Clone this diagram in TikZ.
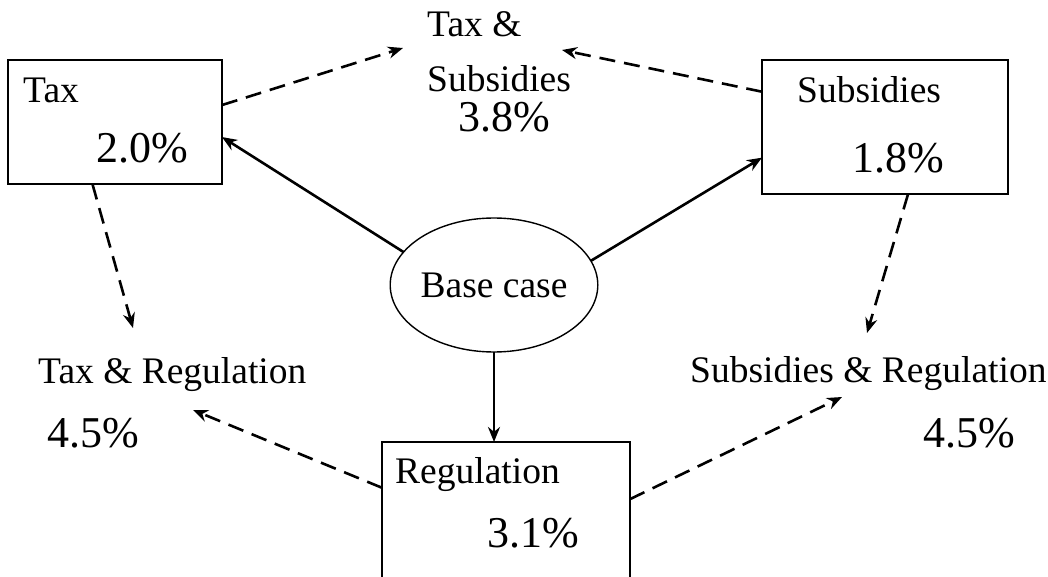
\documentclass[tikz,border=0pt]{standalone}
\usepackage{fontspec}
\setmainfont{Liberation Serif}
\usetikzlibrary{arrows.meta,shapes.geometric}

\begin{document}
\begin{tikzpicture}[x=1pt,y=-1pt,
    box/.style={draw, line width=1.6pt, inner sep=0pt, outer sep=0pt},
    lbl/.style={font=\fontsize{37.5}{44}\selectfont, inner sep=0pt, anchor=base west},
    pct/.style={font=\fontsize{44}{50}\selectfont, inner sep=0pt, anchor=base west},
    solidarr/.style={line width=2.6pt, -{Stealth[length=15pt,width=12pt]}},
    dasharr/.style={solidarr, dash pattern=on 16pt off 9pt}]
    \clip (0,0) rectangle (1048,577);

    \node[box, minimum width=214pt, minimum height=124pt] (tax) at (115,122) {};
    \node[lbl] (taxname) at (23,103) {Tax};
    \node[pct] (taxval)  at (96,163) {2.0\%};

    \node[box, minimum width=246pt, minimum height=134pt] (sub) at (885,127) {};
    \node[lbl] (subname) at (797,103) {Subsidies};
    \node[pct] (subval)  at (852,173) {1.8\%};

    \node[box, minimum width=248pt, minimum height=158pt] (reg) at (506,521) {};
    \node[lbl] (regname) at (395,483) {Regulation};
    \node[pct] (regval)  at (487,547) {3.1\%};

    \node[box, ellipse, line width=1.4pt, minimum width=202pt, minimum height=134pt,
          font=\fontsize{37.5}{44}\selectfont] (base) at (494,285) {Base case};

    \node[lbl] (tsA) at (427,37)  {Tax \&};
    \node[lbl] (tsB) at (427,92)  {Subsidies};
    \node[pct] (tsC) at (458,132) {3.8\%};

    \node[lbl] (trname) at (38,383) {Tax \& Regulation};
    \node[pct] (trval)  at (47,447) {4.5\%};

    \node[lbl] (srname) at (690,382) {Subsidies \& Regulation};
    \node[pct] (srval)  at (923,447) {4.5\%};

    \draw[solidarr] (base.160) -- (tax.-8.5);
    \draw[solidarr] (base.14) -- (sub.194);
    \draw[solidarr] (base.south) -- (base.south |- reg.north);

    \draw[dasharr] (tax.9)    -- ([xshift=-24pt,yshift=-11pt]tsA.base west);
    \draw[dasharr] (sub.164)  -- ([xshift=135pt,yshift=-13pt]tsA.base west);
    \draw[dasharr] (tax.-110) -- ([xshift=95pt,yshift=55pt]trname.base west);
    \draw[dasharr] (sub.-71)  -- ([xshift=177pt,yshift=49pt]srname.base west);
    \draw[dasharr] (reg.165)  -- ([xshift=155pt,yshift=-27pt]trname.base west);
    \draw[dasharr] (reg.10.5) -- ([xshift=152pt,yshift=-15pt]srname.base west);

\end{tikzpicture}
\end{document}
